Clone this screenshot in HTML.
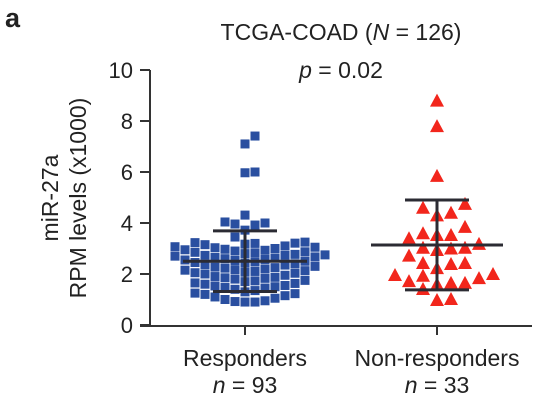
<!DOCTYPE html>
<html><head><meta charset="utf-8"><style>
body{margin:0;background:#fff}
svg{display:block;font-family:"Liberation Sans",Arial,sans-serif}
</style></head><body>
<svg id="chart" width="538" height="406" viewBox="0 0 538 406">
<text x="5" y="27" font-size="27" font-weight="bold" fill="#222">a</text>
<text x="341" y="40" font-size="23" text-anchor="middle" fill="#222">TCGA-COAD (<tspan font-style="italic">N</tspan> = 126)</text>
<text x="341" y="78" font-size="23" text-anchor="middle" fill="#222"><tspan font-style="italic">p</tspan> = 0.02</text>
<g transform="translate(58,198) rotate(-90)">
<text x="0" y="0" font-size="23" text-anchor="middle" fill="#222">miR-27a</text>
<text x="0" y="28" font-size="23" text-anchor="middle" fill="#222">RPM levels (x1000)</text>
</g>
<g id="axes"></g>
<g id="marks"></g>
<text x="245" y="366" font-size="23" text-anchor="middle" fill="#222">Responders</text>
<text x="245" y="393" font-size="23" text-anchor="middle" fill="#222"><tspan font-style="italic">n</tspan> = 93</text>
<text x="437" y="366" font-size="23" text-anchor="middle" fill="#222">Non-responders</text>
<text x="437" y="393" font-size="23" text-anchor="middle" fill="#222"><tspan font-style="italic">n</tspan> = 33</text>
</svg>
<script>
const yTicks=[0,2,4,6,8,10];
const groups=["Responders","Non-responders"];
const responders=[7.41,7.1,5.97,6.0,4.31,4.0,3.92,3.96,4.04,3.72,3.45,
3.25,3.23,3.2,3.15,3.17,3.21,3.1,3.05,3.07,3.03,3.0,2.95,2.97,2.9,2.85,2.87,2.83,2.8,2.75,2.77,2.73,
2.7,2.65,2.67,2.63,2.6,2.55,2.57,2.53,2.5,2.45,2.47,2.43,2.4,2.35,2.3,2.27,2.25,2.23,2.2,2.15,2.17,
2.13,2.1,2.05,2.07,2.03,2.0,1.95,1.9,1.87,1.85,1.83,1.8,1.75,1.73,1.7,1.65,1.63,1.6,1.55,1.53,
1.5,1.45,1.4,1.35,1.3,1.25,1.2,1.15,1.1,1.05,1.0,0.95,0.92,0.9,0.9,1.23,1.47,2.37,2.73,2.93];
const nonResponders=[8.8,7.8,5.85,4.75,4.6,4.4,4.3,3.85,3.53,3.4,3.53,3.6,3.03,3.0,2.94,3.03,3.18,2.72,
2.43,2.39,2.23,2.43,1.96,1.84,2.0,1.93,1.65,1.6,1.65,1.72,1.41,0.98,1.02];
const NS="http://www.w3.org/2000/svg";
const y=v=>325-v*25.5;
const xc=[245,437];
const axes=document.getElementById('axes'),marks=document.getElementById('marks');
function mk(tag,at,parent){const e=document.createElementNS(NS,tag);for(const k in at)e.setAttribute(k,at[k]);parent.appendChild(e);return e;}
let l=mk('line',{x1:150,y1:y(10),x2:150,y2:326,stroke:'#333','stroke-width':2},axes);


l=mk('line',{x1:140,y1:326,x2:532,y2:326,stroke:'#333','stroke-width':2},axes);


xc.forEach((c,i)=>{const t=mk('line',{x1:c,y1:326,x2:c,y2:335,stroke:'#333','stroke-width':2},axes);

});
yTicks.forEach(v=>{const t=mk('line',{x1:140,y1:y(v),x2:150,y2:y(v),stroke:'#333','stroke-width':2},axes);


const tx=mk('text',{x:133,y:y(v)+8,'font-size':22,'text-anchor':'end',fill:'#222'},axes);tx.textContent=v;

});
function swarm(vals,c,size,step){const placed=[];const order=vals.map((v,i)=>i).sort((a,b)=>vals[a]-vals[b]);const pos=[];
order.forEach(i=>{const py=y(vals[i]);for(let k=0;k<80;k++){const off=(k%2?1:-1)*Math.ceil(k/2)*step;const px=c+off;
if(!placed.some(p=>Math.abs(p[0]-px)<size&&Math.abs(p[1]-py)<size)){placed.push([px,py]);pos[i]=[px,py];break;}}});return pos;}
const rp=swarm(responders,xc[0],9,5);
rp.forEach(p=>{const r=mk('rect',{x:p[0]-4.5,y:p[1]-4.5,width:9,height:9,fill:'#2a4fa0'},marks);

});
const np=swarm(nonResponders,xc[1],12.5,7);
np.forEach(p=>{const t=mk('polygon',{points:`${p[0]},${p[1]-7} ${p[0]-7},${p[1]+6} ${p[0]+7},${p[1]+6}`,fill:'#f2261c'},marks);

});
function stats(a){const m=a.reduce((s,v)=>s+v,0)/a.length;const sd=Math.sqrt(a.reduce((s,v)=>s+(v-m)**2,0)/(a.length-1));return[m,sd];}
const meanHalf=[62,66];
[responders,nonResponders].forEach((a,i)=>{const [m,sd]=stats(a);const c=xc[i];
const g=mk('g',{stroke:'#2b2b33','stroke-width':3},marks);


mk('line',{x1:c-meanHalf[i],y1:y(m),x2:c+meanHalf[i],y2:y(m)},g);
mk('line',{x1:c,y1:y(m-sd),x2:c,y2:y(m+sd)},g);
mk('line',{x1:c-32,y1:y(m+sd),x2:c+32,y2:y(m+sd)},g);
mk('line',{x1:c-32,y1:y(m-sd),x2:c+32,y2:y(m-sd)},g);});
</script>
</body></html>
